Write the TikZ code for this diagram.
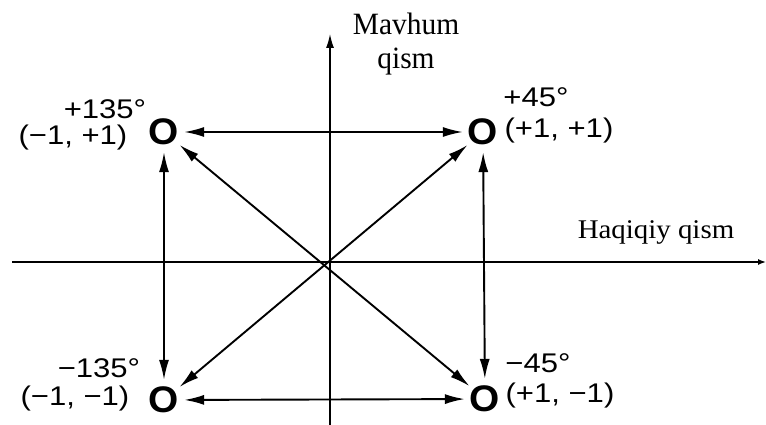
\documentclass[tikz,border=0pt]{standalone}
\usepackage{fontspec}
\setmainfont{Liberation Serif}
\newfontfamily\labfont[FakeStretch=1.15]{Liberation Sans}
\newfontfamily\ptfont[FakeStretch=1.05]{Liberation Sans}
\newfontfamily\imfont[FakeStretch=0.95]{Liberation Serif}
\newfontfamily\refont[FakeStretch=1.07]{Liberation Serif}
\usetikzlibrary{arrows.meta}
\begin{document}
\begin{tikzpicture}[x=1pt,y=-1pt,
  pt/.style={font=\ptfont\bfseries\fontsize{37}{37}\selectfont, circle, inner sep=0pt},
  lab/.style={font=\labfont\fontsize{27}{30}\selectfont, inner sep=0pt},
  conn/.style={line width=1.9pt, {Latex[length=20pt,width=10pt]}-{Latex[length=20pt,width=10pt]}},
  axis/.style={line width=1.4pt}]
\useasboundingbox (0,0) rectangle (766,425);
% axes
\coordinate (xl) at (12,262);
\coordinate (xr) at (766,262);
\coordinate (yt) at (330,34);
\coordinate (yb) at (330,425);
\draw[axis,-{Latex[length=8pt,width=6pt]}] (xl) -- (xr);
\draw[axis,-{Latex[length=14pt,width=8pt]}] (yb) -- (yt);
\node[font=\imfont\fontsize{31}{34}\selectfont, inner sep=0pt, align=center] (im) at (406,44) {Mavhum\\qism};
\node[font=\refont\fontsize{27}{30}\selectfont, inner sep=0pt] (re) at (656,232) {Haqiqiy qism};
% points
\node[pt] (tl) at (164,132) {O};
\node[pt] (tr) at (483,132) {O};
\node[pt] (bl) at (164,400) {O};
\node[pt] (br) at (485,399) {O};
% labels
\node[lab] (a1) at (105,109) {+135°};
\node[lab] (c1) at (73,138) {(−1, +1)};
\node[lab] (a2) at (536,97) {+45°};
\node[lab] (c2) at (559,131) {(+1, +1)};
\node[lab] (a3) at (99,368) {−135°};
\node[lab] (c3) at (75,399) {(−1, −1)};
\node[lab] (a4) at (538,363) {−45°};
\node[lab] (c4) at (560,396) {(+1, −1)};
% connectors
\draw[conn] (tl) -- (tr);
\draw[conn] (bl) -- (br);
\draw[conn] (tl) -- (bl);
\draw[conn] (tr) -- (br);
\draw[conn] (tl) -- (br);
\draw[conn] (tr) -- (bl);
\end{tikzpicture}
\end{document}
